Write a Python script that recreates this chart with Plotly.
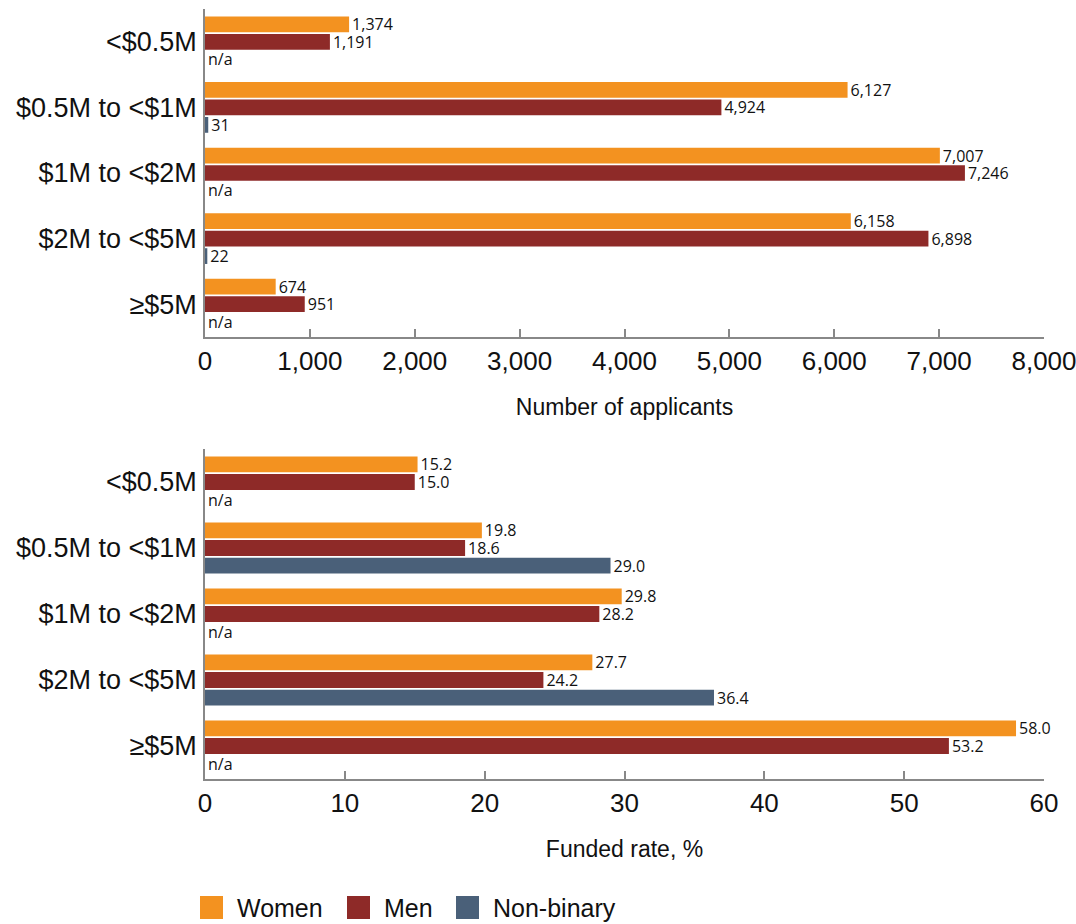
import plotly.graph_objects as go

categories = ["<$0.5M", "$0.5M to <$1M", "$1M to <$2M", "$2M to <$5M", "≥$5M"]
series_names = ["Women", "Men", "Non-binary"]
colors = ["#F39220", "#8E2A28", "#4A6079"]

applicants_women = [1374, 6127, 7007, 6158, 674]
applicants_men = [1191, 4924, 7246, 6898, 951]
applicants_nonbinary = [None, 31, None, 22, None]

funded_women = [15.2, 19.8, 29.8, 27.7, 58.0]
funded_men = [15.0, 18.6, 28.2, 24.2, 53.2]
funded_nonbinary = [None, 29.0, None, 36.4, None]

x_ticks_top = [0, 1000, 2000, 3000, 4000, 5000, 6000, 7000, 8000]
x_ticks_bottom = [0, 10, 20, 30, 40, 50, 60]

FONT = "Liberation Sans, Arial, sans-serif"
TICK_FONT = dict(family=FONT, size=26, color="#111")
CAT_FONT = dict(family=FONT, size=27, color="#111")
LABEL_FONT = dict(family="Open Sans, Noto Sans, sans-serif", size=16, color="#111")
TITLE_FONT = dict(family=FONT, size=23, color="#111")

W, H = 1076, 924
ML, MR, MT, MB = 205, 32, 9, 145
PW, PH = W - ML - MR, H - MT - MB

fig = go.Figure()

def add_series(values, fmt, name, color, xaxis, yaxis):
    xs = [0 if v is None else v for v in values]
    texts = ["n/a" if v is None else fmt(v) for v in values]
    fig.add_trace(go.Bar(
        y=categories, x=xs, orientation="h", name=name,
        marker=dict(color=color, line=dict(width=0)),
        text=texts, textposition="outside", textfont=LABEL_FONT,
        constraintext="none", cliponaxis=False, showlegend=False,
        xaxis=xaxis, yaxis=yaxis, hoverinfo="x+y+name",
    ))

top = [applicants_women, applicants_men, applicants_nonbinary]
bottom = [funded_women, funded_men, funded_nonbinary]
for vals, name, col in zip(top, series_names, colors):
    add_series(vals, lambda v: f"{v:,}", name, col, "x", "y")
for vals, name, col in zip(bottom, series_names, colors):
    add_series(vals, lambda v: f"{v:.1f}", name, col, "x2", "y2")

axis_common = dict(
    showgrid=False, zeroline=False, showline=True, linecolor="#888", linewidth=1.5,
    ticks="inside", ticklen=8, tickcolor="#888", tickwidth=1.5,
    tickfont=TICK_FONT, automargin=False, ticklabeloverflow="allow",
)
yaxis_common = dict(
    categoryorder="array", categoryarray=categories, autorange="reversed",
    showgrid=False, zeroline=False, showline=True, linecolor="#888", linewidth=1.5,
    ticks="", tickfont=CAT_FONT, ticklabelstandoff=1, automargin=False,
)

fig.update_layout(
    template="none",
    width=W, height=H,
    margin=dict(l=ML, r=MR, t=MT, b=MB),
    paper_bgcolor="white", plot_bgcolor="white",
    barmode="group", bargap=0.2, bargroupgap=0.1,
    xaxis=dict(axis_common, range=[0, 8000], tickvals=x_ticks_top,
               ticktext=[f"{t:,}" for t in x_ticks_top], anchor="y",
               title=dict(text="Number of applicants", font=TITLE_FONT, standoff=24)),
    yaxis=dict(yaxis_common, domain=[(779 - 337) / PH, 1], anchor="x"),
    xaxis2=dict(axis_common, range=[0, 60], tickvals=x_ticks_bottom, anchor="y2",
                title=dict(text="Funded rate, %", font=TITLE_FONT, standoff=24)),
    yaxis2=dict(yaxis_common, domain=[0, (779 - 449) / PH], anchor="x2"),
    showlegend=False,
)

# custom legend (large square swatches as in the reference)
legend_px = [(200, 235), (347, 382), (456, 491)]
sq_top, sq_bot = 896, 919
for (sx, tx), name, col in zip(legend_px, series_names, colors):
    fig.add_shape(type="rect", xref="paper", yref="paper",
                  x0=(sx - ML) / PW, x1=(sx + 23 - ML) / PW,
                  y0=(H - MB - sq_bot) / PH, y1=(H - MB - sq_top) / PH,
                  fillcolor=col, line=dict(width=0))
    fig.add_annotation(xref="paper", yref="paper", x=(tx - ML) / PW,
                       y=(H - MB - (sq_top + sq_bot) / 2) / PH,
                       xanchor="left", yanchor="middle", showarrow=False,
                       text=name, font=dict(family=FONT, size=25, color="#111"))

fig.write_html("out.html", config={"displayModeBar": False},
               post_script="document.body.style.margin='0';")
